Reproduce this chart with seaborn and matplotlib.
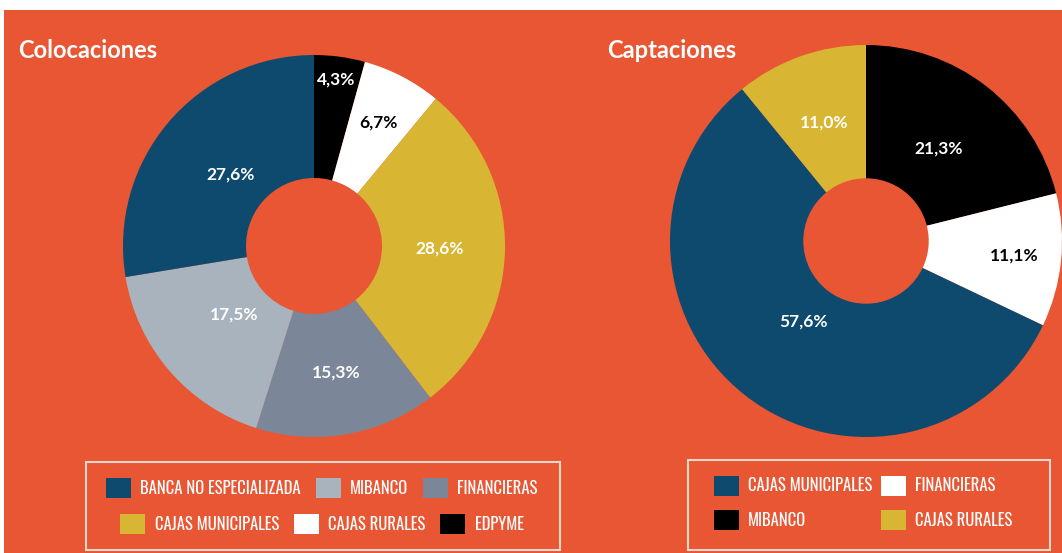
import numpy as np
import matplotlib
matplotlib.use("Agg")
import matplotlib.pyplot as plt
import seaborn as sns
from matplotlib.patches import Rectangle, Patch

# =====================================================
# DATA
# =====================================================

col_labels = ["EDPYME", "CAJAS RURALES", "CAJAS MUNICIPALES",
              "FINANCIERAS", "MIBANCO", "BANCA NO ESPECIALIZADA"]
col_values = [4.3, 6.7, 28.6, 15.3, 17.5, 27.6]

cap_labels = ["MIBANCO", "FINANCIERAS", "CAJAS MUNICIPALES", "CAJAS RURALES"]
cap_values = [21.3, 11.1, 57.6, 11.0]

col_legend_row1 = ["BANCA NO ESPECIALIZADA", "MIBANCO", "FINANCIERAS"]
col_legend_row2 = ["CAJAS MUNICIPALES", "CAJAS RURALES", "EDPYME"]
cap_legend = ["CAJAS MUNICIPALES", "MIBANCO", "FINANCIERAS", "CAJAS RURALES"]

# =====================================================
# STYLE
# =====================================================

sns.set_theme(style="white")
plt.rcParams["font.family"] = ["DejaVu Sans"]

HEAD_FONT = ["Lato", "DejaVu Sans"]
LEG_FONT = ["Oswald", "Roboto Condensed", "DejaVu Sans"]

ORANGE = "#E85633"
colors = {
    "BANCA NO ESPECIALIZADA": "#0D4A6E",
    "MIBANCO": "#A9B3BD",
    "FINANCIERAS": "#7B8799",
    "CAJAS MUNICIPALES": "#D8B633",
    "CAJAS RURALES": "#FFFFFF",
    "EDPYME": "#000000",
}
cap_colors = {
    "CAJAS MUNICIPALES": "#0D4A6E",
    "FINANCIERAS": "#FFFFFF",
    "MIBANCO": "#000000",
    "CAJAS RURALES": "#D8B633",
}

W, H = 1062, 553
fig = plt.figure(figsize=(W / 100, H / 100), dpi=100, facecolor="white")
fig.patches.append(Rectangle((4 / W, 0), 1, 1 - 10 / H, transform=fig.transFigure,
                             facecolor=ORANGE, edgecolor="none", zorder=-10))


def pie_axes(cx, cy, r):
    return fig.add_axes([(cx - r) / W, (H - cy - r) / H, 2 * r / W, 2 * r / H])


def draw_donut(ax, values, labels, cmap, hole, label_r, text_colors):
    ax.pie(values, colors=[cmap[l] for l in labels], startangle=90,
           counterclock=False, wedgeprops=dict(width=1 - hole, linewidth=0))
    ax.set_xlim(-1, 1)
    ax.set_ylim(-1, 1)
    ax.set_aspect("auto")
    ax.axis("off")
    total = sum(values)
    start = 90.0
    for v, lr, tc in zip(values, label_r, text_colors):
        ang = np.deg2rad(start - v / total * 360 / 2)
        start -= v / total * 360
        ax.text(lr * np.cos(ang), lr * np.sin(ang), f"{v:.1f}%".replace(".", ","),
                ha="center", va="center", color=tc, fontsize=12.5,
                fontweight="bold", family=HEAD_FONT)


# =====================================================
# COLOCACIONES
# =====================================================

ax1 = pie_axes(314, 246, 191)
draw_donut(ax1, col_values, col_labels, colors, 0.356,
           [0.88, 0.73, 0.66, 0.67, 0.55, 0.575],
           ["white", "black", "white", "white", "white", "white"])

fig.text(18 / W, 1 - 50 / H, "Colocaciones", color="white", fontsize=17,
         fontweight="bold", va="center", family=HEAD_FONT)

# =====================================================
# CAPTACIONES
# =====================================================

ax2 = pie_axes(866, 241, 196)
draw_donut(ax2, cap_values, cap_labels, cap_colors, 0.32,
           [0.60, 0.76, 0.52, 0.64],
           ["white", "black", "white", "white"])

fig.text(607 / W, 1 - 50 / H, "Captaciones", color="white", fontsize=17,
         fontweight="bold", va="center", family=HEAD_FONT)

# =====================================================
# LEGENDS
# =====================================================

for x0, y0, x1, y1 in [(86, 462, 560, 550), (688, 460, 1050, 550)]:
    fig.patches.append(Rectangle((x0 / W, 1 - y1 / H), (x1 - x0) / W, (y1 - y0) / H,
                                 transform=fig.transFigure, facecolor="none",
                                 edgecolor="#F6D6CC", linewidth=1.5))

leg_kw = dict(frameon=False, handlelength=1.5, handleheight=1.5,
              handletextpad=0.55, labelcolor="white", borderpad=0, borderaxespad=0,
              prop=dict(family=LEG_FONT, size=12))


def handles(names, cmap):
    return [Patch(facecolor=cmap[n], edgecolor="none", label=n) for n in names]


fig.legend(handles=handles(col_legend_row1, colors), ncol=3, loc="center",
           bbox_to_anchor=(322 / W, 1 - 488 / H), columnspacing=0.9, **leg_kw)
fig.legend(handles=handles(col_legend_row2, colors), ncol=3, loc="center",
           bbox_to_anchor=(322 / W, 1 - 524 / H), columnspacing=0.9, **leg_kw)
fig.legend(handles=handles(cap_legend, cap_colors), ncol=2, loc="center",
           bbox_to_anchor=(863 / W, 1 - 503 / H), columnspacing=0.5,
           labelspacing=0.85, **leg_kw)

fig.savefig("out.png", dpi=100, facecolor=fig.get_facecolor())
